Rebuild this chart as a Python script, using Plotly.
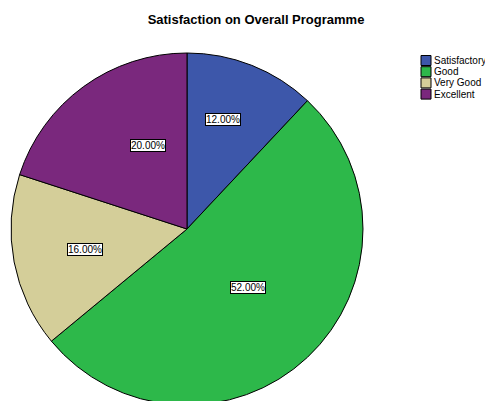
import math
import plotly.graph_objects as go

categories = ["Satisfactory", "Good", "Very Good", "Excellent"]
values = [12.0, 52.0, 16.0, 20.0]
colors = ["#3D57AA", "#2DB84A", "#D4CE99", "#7A287D"]
# label placement: radial fraction and angle shift (degrees) from slice middle
label_radius = [0.69, 0.505, 0.69, 0.577]
label_shift = [-4.6, 0.0, 1.0, 1.8]

# figure is slightly taller than the 401px window so the pie runs off the bottom edge
W, H = 485, 405
dom_x = [11 / W, 363 / W]
dom_y = [0.0, 1 - 53 / H]
FONT = "Liberation Sans, Arial"


def px_x(x):
    return x / W


def px_y(y):
    return 1 - y / H


fig = go.Figure(go.Pie(
    labels=categories, values=values, sort=False, direction="clockwise",
    rotation=0, marker=dict(colors=colors, line=dict(color="black", width=1)),
    textinfo="none", hoverinfo="label+percent",
    domain=dict(x=dom_x, y=dom_y), showlegend=False,
))

# annotation positions from slice mid-angles
cx = (dom_x[0] + dom_x[1]) / 2 * W
wpx = (dom_x[1] - dom_x[0]) * W
hpx = (dom_y[1] - dom_y[0]) * H
r = min(wpx, hpx) / 2
cy = (1 - dom_y[1]) * H + hpx / 2
total = sum(values)
cum = 0
annotations = []
for v, rf, sh in zip(values, label_radius, label_shift):
    mid = (cum + v / 2) / total * 2 * math.pi + math.radians(sh)
    cum += v
    x = cx + rf * r * math.sin(mid)
    y = cy - rf * r * math.cos(mid)
    annotations.append(dict(
        x=px_x(x), y=px_y(y), xref="paper", yref="paper",
        text=f"{v / total * 100:.2f}%", showarrow=False,
        font=dict(family=FONT, size=10, color="black"),
        bgcolor="white", bordercolor="black", borderwidth=1, borderpad=0,
    ))

# custom compact legend
shapes = []
leg_x, leg_top, sq, step = 421, 55.5, 10, 11.2
for i, (name, col) in enumerate(zip(categories, colors)):
    top = leg_top + i * step
    shapes.append(dict(type="rect", xref="paper", yref="paper",
                       x0=px_x(leg_x), x1=px_x(leg_x + sq),
                       y0=px_y(top + sq), y1=px_y(top),
                       fillcolor=col, line=dict(color="black", width=1)))
    annotations.append(dict(x=px_x(leg_x + sq + 1), y=px_y(top + sq / 2),
                            xref="paper", yref="paper", xanchor="left", yanchor="middle",
                            text=name, showarrow=False,
                            font=dict(family=FONT, size=10, color="black")))

fig.update_layout(
    width=W, height=H, autosize=False,
    margin=dict(l=0, r=0, t=0, b=0, autoexpand=False),
    paper_bgcolor="white", plot_bgcolor="white",
    title=dict(text="<b>Satisfaction on Overall Programme</b>", x=px_x(256), xanchor="center",
               y=px_y(19.5), yanchor="middle",
               font=dict(family=FONT, size=13, color="black")),
    showlegend=False,
    annotations=annotations, shapes=shapes,
)

fig.write_html("out.html", config={"displayModeBar": False},
               post_script="document.body.style.margin='0px';document.body.style.overflow='hidden';"
                           "document.documentElement.style.overflow='hidden';")
